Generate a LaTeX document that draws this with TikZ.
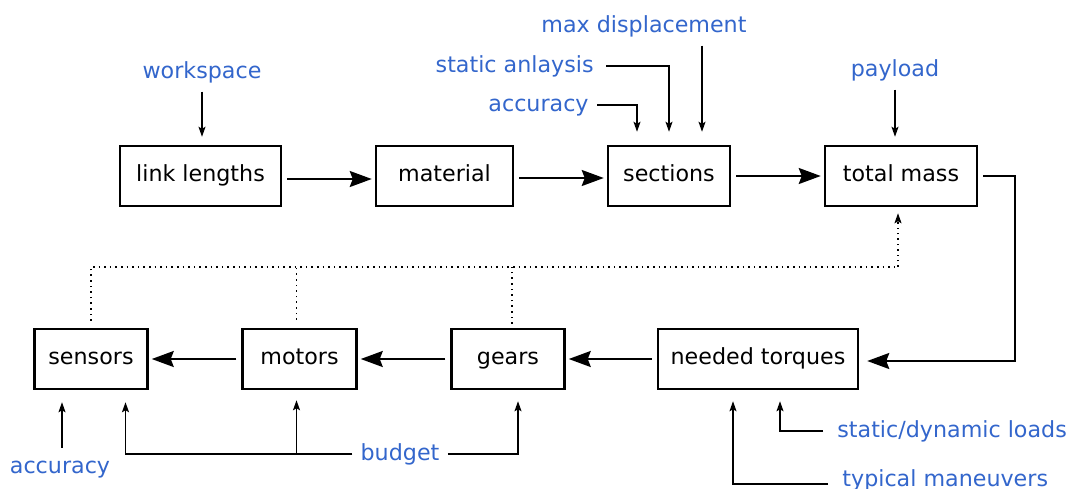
\documentclass[tikz,border=0pt]{standalone}
\usepackage{fontspec}
\setmainfont{DejaVu Sans}
\usepackage{tikz}
\usetikzlibrary{arrows.meta, positioning, calc}
\usepackage{xcolor}
\definecolor{inlabel}{HTML}{3366CC}
\tikzset{
    block/.style={
        rectangle, minimum height=30pt, inner sep=3pt,
        text height=8.5pt, text depth=2.6pt,
        text centered, draw=black, line width=1.25pt, font=\fontsize{11.1}{13}\selectfont
    },
    flow/.style={
        -{Stealth[length=11pt, width=8pt, inset=1.5pt]}, line width=1pt,
        shorten <=2.5pt, shorten >=1.5pt
    },
    input/.style={
        -{Stealth[length=5pt, width=3.5pt, inset=1pt]}, line width=0.7pt
    },
    feedback/.style={
        dotted, line width=0.8pt
    },
    given/.style={
        inner sep=4pt, text=inlabel, text height=8.5pt, text depth=2.6pt,
        font=\fontsize{11.1}{13}\selectfont
    }
}

\begin{document}
\begin{tikzpicture}[x=0.5pt, y=-0.5pt, node distance=30pt and 46.25pt]

    \useasboundingbox[fill=white] (0,0) rectangle (1071,488);

    % design chain, top row
    \node[block, minimum width=80.5pt] at (200.5,176)   (links)    {link lengths};
    \node[block, minimum width=68.5pt, right=of links]  (material) {material};
    \node[block, minimum width=61pt, right=of material] (sections) {sections};
    \node[block, minimum width=76pt, right=of sections] (mass)     {total mass};

    % bottom row, right to left
    \node[block, minimum width=100pt] at (758,359)      (torques)  {needed torques};
    \node[block, minimum width=56.5pt, left=45.5pt of torques] (gears)    {gears};
    \node[block, minimum width=57pt, left=of gears]     (motors)   {motors};
    \node[block, minimum width=56.5pt, left=of motors]  (sensors)  {sensors};

    \draw[flow] ([yshift=-1.5pt]links.east)    -- ([yshift=-1.5pt]material.west);
    \draw[flow] ([yshift=-1pt]material.east) -- ([yshift=-1pt]sections.west);
    \draw[flow] (sections) -- (mass);
    \draw[flow, shorten >=4pt] (mass.east) -- ++(37,0) |- ([yshift=-1pt]torques.east);
    \draw[flow] (torques)  -- (gears);
    \draw[flow] (gears)    -- (motors);
    \draw[flow] (motors)   -- (sensors);

    % requirements feeding the blocks
    \node[given, anchor=base]      at (202,78)  (workspace) {workspace};
    \node[given, anchor=base]      at (895,76)  (payload)   {payload};
    \node[given, anchor=base]      at (644,32)  (maxdisp)   {max displacement};
    \node[given, anchor=base east] at (602,72)  (statics)   {static anlaysis};
    \node[given, anchor=base east] at (597,111) (accutop)   {accuracy};
    \node[given, anchor=base]      at (60,473)  (accubot)   {accuracy};
    \node[given, anchor=base]      at (400,460) (budget)    {budget};
    \node[given, anchor=base west] at (829,437) (loads)     {static/dynamic loads};
    \node[given, anchor=base west] at (834,486) (maneuvers) {typical maneuvers};

    \draw[input, shorten >=4pt] (workspace.south) -- (workspace.south |- links.north);
    \draw[input, shorten >=4pt] (payload.south) -- (payload.south |- mass.north);
    \draw[input, shorten >=6.5pt] ([xshift=16.5pt]sections.north |- maxdisp.south) -- ([xshift=16.5pt]sections.north);
    \draw[input, shorten >=6.5pt, shorten <=2pt] (statics.east) -| (sections.north);
    \draw[input, shorten >=6.5pt] (accutop.east) -| ([xshift=-16pt]sections.north);

    \draw[input, shorten >=6pt] ([xshift=1pt]accubot.north) -- ([xshift=1pt]accubot.north |- sensors.south);
    \draw[input, shorten >=6pt] (budget.west) -| ([xshift=17.25pt]sensors.south);
    \draw[input, shorten >=5pt] ([xshift=-1.5pt]motors.south |- budget.west) -- ([xshift=-1.5pt]motors.south);
    \draw[input, shorten >=5.5pt] (budget.east) -| ([xshift=5pt]gears.south);

    \draw[input, shorten >=5.5pt] ([xshift=-3pt]loads.west) -| ([xshift=11pt]torques.south);
    \draw[input, shorten >=5.5pt] ([xshift=-3pt,yshift=-2pt]maneuvers.west) -| ([xshift=-12.5pt]torques.south);

    % feedback of component masses
    \draw[feedback] ([yshift=3.5pt]sensors.north) -- ++(0,-54) coordinate (bus)
        -- ([xshift=-1.5pt]bus -| mass.south);
    \draw[input, feedback, shorten >=3pt] ([xshift=-1.5pt]bus -| mass.south) -- ([xshift=-1.5pt]mass.south);
    \draw[feedback] ([xshift=-1.5pt, yshift=4pt]motors.north) -- ([xshift=-1.5pt]motors.north |- bus);
    \draw[feedback] ([xshift=2pt, yshift=2pt]gears.north) -- ([xshift=2pt]gears.north |- bus);

\end{tikzpicture}
\end{document}
